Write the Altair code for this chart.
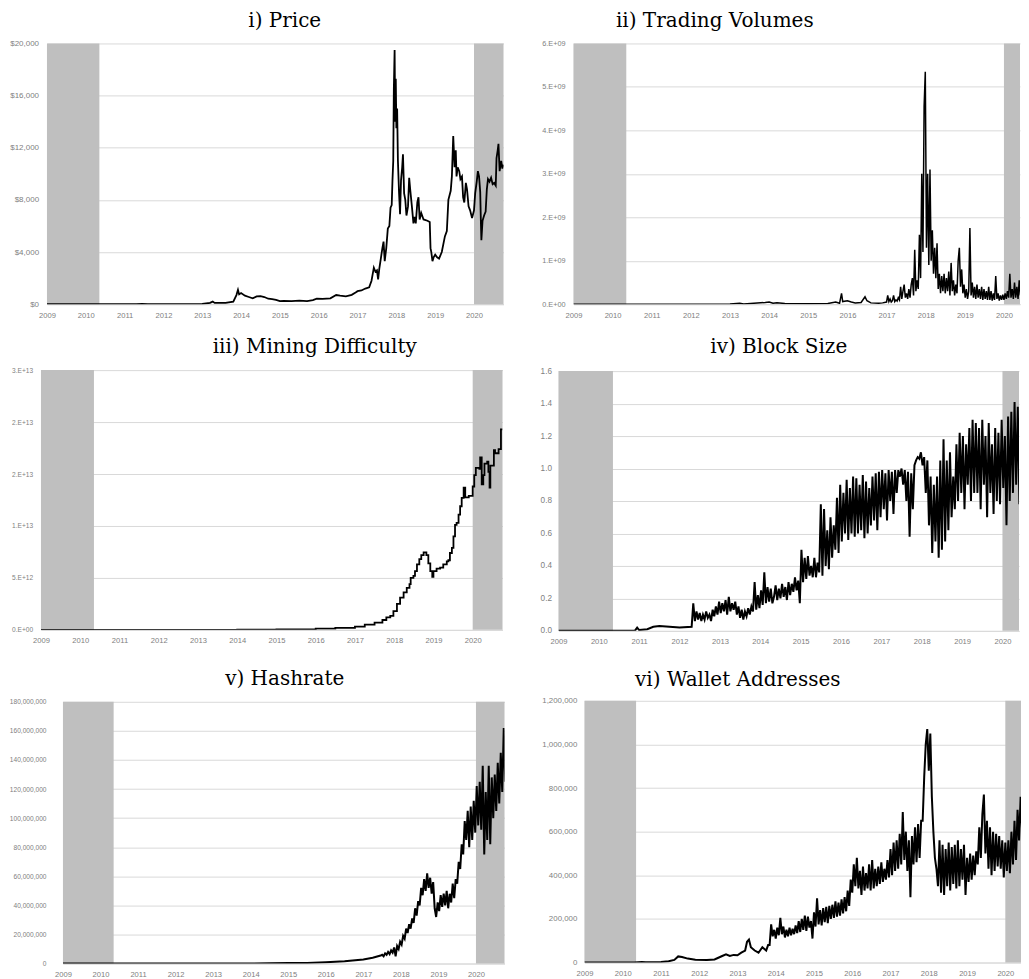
import altair as alt
import pandas as pd

YEARS = list(range(2009, 2021))
SHADE_LEFT_END = 2010.35
SHADE_RIGHT_START = 2020.0

# ---------------- i) Price (USD) ----------------
price_t = [2009.0, 2010.5, 2011.3, 2011.45, 2011.6, 2012.0, 2012.5, 2013.0, 2013.2, 2013.27,
           2013.32, 2013.6, 2013.8, 2013.88, 2013.92, 2013.95, 2014.0, 2014.1, 2014.2, 2014.3,
           2014.4, 2014.5, 2014.6, 2014.7, 2014.8, 2014.9, 2015.0, 2015.1, 2015.3, 2015.5,
           2015.7, 2015.85, 2015.95, 2016.1, 2016.3, 2016.45, 2016.55, 2016.7, 2016.85, 2016.95,
           2017.0, 2017.1, 2017.2, 2017.3, 2017.36, 2017.42, 2017.46, 2017.5, 2017.53, 2017.56,
           2017.6, 2017.64, 2017.67, 2017.7, 2017.74, 2017.78, 2017.82, 2017.85, 2017.88, 2017.9,
           2017.92, 2017.935, 2017.955, 2017.97, 2017.985, 2018.0, 2018.02, 2018.04, 2018.07, 2018.095,
           2018.12, 2018.15, 2018.17, 2018.2, 2018.23, 2018.26, 2018.3, 2018.33, 2018.36, 2018.4,
           2018.44, 2018.47, 2018.5, 2018.54, 2018.57, 2018.6, 2018.64, 2018.7, 2018.8, 2018.86,
           2018.88, 2018.9, 2018.93, 2018.96, 2019.0, 2019.05, 2019.1, 2019.17, 2019.25, 2019.3,
           2019.34, 2019.4, 2019.43, 2019.465, 2019.5, 2019.53, 2019.55, 2019.58, 2019.62, 2019.65,
           2019.69, 2019.72, 2019.75, 2019.79, 2019.82, 2019.86, 2019.9, 2019.95, 2020.0, 2020.03,
           2020.07, 2020.1, 2020.13, 2020.16, 2020.18, 2020.19, 2020.22, 2020.26, 2020.3, 2020.33,
           2020.36, 2020.4, 2020.44, 2020.48, 2020.52, 2020.56, 2020.58, 2020.61, 2020.63, 2020.66,
           2020.7, 2020.73, 2020.76]
price_v = [0, 0, 5, 25, 12, 5, 10, 15, 100, 200,
           100, 100, 200, 700, 1100, 750, 850, 650, 550, 450,
           600, 620, 550, 420, 380, 330, 230, 250, 230, 280,
           240, 320, 430, 400, 450, 700, 650, 600, 720, 900,
           1000, 1050, 1200, 1300, 1800, 2800, 2500, 2600, 1900, 2700,
           3500, 4300, 4800, 3300, 4300, 5800, 6000, 7400, 7600, 9500,
           11000, 16500, 19500, 14000, 17300, 13500, 15000, 11000, 8500, 6900,
           9500, 10500, 11500, 8500, 8000, 6800, 7500, 9700, 8700, 7500,
           6200, 6700, 6200, 7800, 8200, 6500, 7000, 6500, 6400, 6300,
           4300, 4000, 3300, 3600, 3800, 3600, 3500, 4000, 5200, 5600,
           8000, 8700, 9800, 12900, 10500, 11800, 9800, 10500, 10200, 9600,
           9800, 8200, 7800, 9300, 8800, 7500, 7200, 6600, 7200, 8500,
           9400, 10200, 9800, 8600, 6000, 4900, 6400, 6800, 7100, 8800,
           9600, 9400, 9700, 9200, 9300, 9100, 11200, 11800, 12300, 10200,
           11000, 10400, 10700]

# ---------------- ii) Trading volumes (billions) ----------------
vol_early_t = [2009.0, 2013.0, 2013.25, 2013.35, 2013.9, 2014.0, 2014.1, 2014.2, 2014.4, 2015.0,
               2015.5, 2015.7, 2015.8, 2015.85, 2015.88, 2016.0, 2016.1, 2016.2, 2016.35, 2016.45,
               2016.5, 2016.6, 2016.8, 2016.9]
vol_early_v = [0, 0.002, 0.02, 0.005, 0.04, 0.05, 0.02, 0.035, 0.015, 0.01,
               0.015, 0.05, 0.02, 0.25, 0.06, 0.08, 0.05, 0.03, 0.04, 0.17,
               0.08, 0.03, 0.02, 0.03]
vol_start, vol_step = 2017.0, 0.03
vol_v = [0.05, 0.20, 0.06, 0.12, 0.05, 0.08, 0.20, 0.06, 0.10, 0.07,
         0.15, 0.10, 0.40, 0.12, 0.30, 0.45, 0.15, 0.25, 0.12, 0.35,
         0.15, 0.45, 0.60, 0.20, 1.25, 0.30, 0.55, 0.35, 1.60, 0.60,
         3.00, 1.20, 4.55, 5.35, 1.30, 3.00, 0.90, 3.10, 1.00, 1.70,
         0.70, 1.30, 0.60, 1.40, 0.35, 0.70, 0.25, 0.65, 0.30, 0.70,
         0.25, 0.60, 0.30, 0.75, 0.20, 0.95, 0.30, 0.55, 0.20, 0.45,
         0.25, 1.00, 1.30, 0.40, 0.80, 0.25, 0.45, 0.15, 0.35, 0.12,
         0.30, 1.75, 0.20, 0.50, 0.15, 0.40, 0.12, 0.45, 0.15, 0.35,
         0.12, 0.40, 0.10, 0.35, 0.12, 0.30, 0.10, 0.40, 0.10, 0.30,
         0.08, 0.25, 0.10, 0.65, 0.12, 0.25, 0.08, 0.20, 0.10, 0.22,
         0.10, 0.25, 0.12, 0.30, 0.15, 0.70, 0.15, 0.35, 0.12, 0.50,
         0.15, 0.40, 0.12, 0.55, 0.20]

# ---------------- iii) Mining difficulty (x 1e12) ----------------
diff_t = [2009.0, 2013.0, 2014.0, 2015.0, 2015.5, 2016.0, 2016.5, 2017.0, 2017.25, 2017.5,
          2017.7, 2017.8, 2017.9, 2017.98, 2018.07, 2018.15, 2018.24, 2018.32, 2018.39, 2018.42,
          2018.49, 2018.53, 2018.58, 2018.64, 2018.69, 2018.75, 2018.82, 2018.87, 2018.92, 2018.97,
          2019.0, 2019.08, 2019.17, 2019.25, 2019.34, 2019.38, 2019.42, 2019.47, 2019.51, 2019.55,
          2019.59, 2019.64, 2019.68, 2019.72, 2019.77, 2019.81, 2019.9, 2020.0, 2020.04, 2020.08,
          2020.17, 2020.19, 2020.23, 2020.27, 2020.30, 2020.37, 2020.40, 2020.43, 2020.45, 2020.54,
          2020.57, 2020.66, 2020.72, 2020.76]
diff_v = [0, 0.003, 0.01, 0.045, 0.055, 0.11, 0.2, 0.32, 0.5, 0.7,
          0.95, 1.2, 1.35, 1.8, 2.5, 3.1, 3.6, 4.05, 4.4, 5.0,
          5.2, 5.65, 6.3, 6.8, 7.2, 7.45, 7.2, 6.4, 5.65, 5.1,
          5.65, 5.9, 6.0, 6.3, 6.6, 6.7, 7.4, 7.9, 9.0, 10.1,
          10.3, 11.1, 11.9, 12.7, 13.7, 12.75, 12.9, 13.8, 14.9, 15.6,
          15.5, 16.6, 14.0, 14.9, 16.0, 16.2, 15.2, 13.7, 15.8, 17.3,
          17.0, 17.4, 19.3, 19.3]

# ---------------- iv) Block size (MB) ----------------
bs_early_t = [2009.0, 2010.0, 2010.9, 2010.95, 2011.0, 2011.2, 2011.35, 2011.5, 2011.75, 2012.0, 2012.3]
bs_early_v = [0, 0.0, 0.003, 0.02, 0.005, 0.01, 0.025, 0.03, 0.025, 0.02, 0.025]
bs_start, bs_step = 2012.34, 0.04
bs_v = [0.17, 0.06, 0.12, 0.07, 0.11, 0.06, 0.10, 0.07, 0.12, 0.08, 0.10, 0.06, 0.13, 0.09, 0.15, 0.10, 0.18, 0.11, 0.17, 0.12, 0.19, 0.10, 0.21, 0.12, 0.17,
        0.13, 0.18, 0.10, 0.15, 0.08, 0.13, 0.07, 0.12, 0.09, 0.14, 0.10, 0.15, 0.12, 0.30, 0.13, 0.22, 0.14, 0.25, 0.16, 0.36, 0.17, 0.27, 0.18, 0.26, 0.17,
        0.21, 0.28, 0.19, 0.26, 0.20, 0.29, 0.21, 0.27, 0.19, 0.30, 0.22, 0.29, 0.24, 0.33, 0.25, 0.31, 0.17, 0.50, 0.30, 0.45, 0.32, 0.46, 0.34, 0.40, 0.33,
        0.45, 0.33, 0.42, 0.36, 0.78, 0.34, 0.75, 0.40, 0.62, 0.38, 0.70, 0.45, 0.65, 0.50, 0.82, 0.48, 0.90, 0.55, 0.85, 0.60, 0.93, 0.56, 0.88, 0.60, 0.95,
        0.58, 0.94, 0.60, 0.90, 0.62, 0.96, 0.57, 0.92, 0.60, 0.88, 0.65, 0.95, 0.68, 0.97, 0.62, 0.98, 0.70, 0.99, 0.75, 0.97, 0.68, 0.99, 0.80, 0.98, 0.72,
        0.99, 0.85, 0.99, 0.95, 1.00, 0.90, 0.99, 0.80, 0.98, 0.58, 0.97, 0.75, 1.02, 1.05, 1.07, 1.06, 1.10, 1.02, 1.07, 0.85, 1.05, 0.65, 0.95, 0.48, 0.90,
        0.55, 0.95, 0.45, 1.05, 0.50, 1.18, 0.55, 1.05, 0.62, 1.10, 0.70, 0.95, 0.75, 1.15, 0.80, 1.22, 0.85, 1.20, 0.75, 1.15, 0.90, 1.25, 0.80, 1.30, 0.85,
        1.28, 0.85, 1.25, 0.75, 1.30, 0.90, 1.20, 0.70, 1.28, 0.85, 1.15, 0.72, 1.25, 0.80, 1.22, 0.78, 1.30, 0.88, 1.20, 0.65, 1.32, 0.80, 1.35, 0.85, 1.41,
        0.90, 1.38, 0.78, 1.30]

# ---------------- v) Hashrate (millions) ----------------
hash_early_t = [2009.0, 2013.0, 2014.0, 2014.5, 2015.0, 2015.5, 2016.0, 2016.5, 2017.0, 2017.25, 2017.46]
hash_early_v = [0, 0.01, 0.05, 0.2, 0.35, 0.45, 0.9, 1.6, 2.8, 4.0, 5.5]
hash_start, hash_step = 2017.5, 0.04
hash_v = [6, 5, 7, 6, 8, 6.5, 9, 7.5, 11, 5,
          12, 10, 15, 13, 19, 17, 24, 21, 27, 24,
          31, 28, 38, 33, 43, 40, 52, 47, 58, 50,
          62, 52, 59, 48, 56, 38, 32, 42, 36, 47,
          39, 48, 40, 50, 38, 48, 42, 55, 45, 58,
          55, 70, 65, 82, 75, 98, 85, 105, 80, 108,
          85, 112, 90, 122, 95, 125, 92, 136, 75, 118,
          85, 136, 82, 128, 100, 130, 105, 138, 110, 145,
          118, 162, 125]

# ---------------- vi) Wallet addresses (thousands) ----------------
wal_early_t = [2009.0, 2010.3, 2010.5, 2010.6, 2011.0, 2011.2, 2011.35, 2011.45, 2011.55, 2011.7,
               2011.9, 2012.2, 2012.4, 2012.5, 2012.6, 2012.7, 2012.8, 2012.9, 2013.0, 2013.1,
               2013.2, 2013.25, 2013.3, 2013.35, 2013.45, 2013.55, 2013.65, 2013.75, 2013.8]
wal_early_v = [0, 0, 3, 1, 3, 6, 12, 28, 25, 18,
               13, 12, 14, 22, 30, 38, 30, 35, 33, 45,
               55, 95, 105, 70, 55, 45, 70, 55, 80]
wal_start, wal_step = 2013.84, 0.04
wal_v = [80, 175, 120, 150, 110, 160, 125, 205, 130, 165, 115, 150, 120, 160, 125, 155, 130, 170, 135, 190, 140, 200, 150, 215, 145,
         210, 160, 190, 110, 230, 165, 295, 175, 240, 170, 250, 185, 255, 180, 260, 200, 265, 205, 280, 210, 275, 215, 290, 225, 300,
         235, 330, 260, 380, 320, 450, 350, 480, 340, 420, 310, 440, 330, 410, 340, 450, 330, 470, 340, 430, 350, 440, 360, 460, 370,
         430, 380, 470, 390, 520, 400, 550, 420, 560, 430, 590, 450, 690, 470, 600, 420, 560, 300, 580, 450, 620, 460, 635, 480, 650,
         650, 850, 1000, 1070, 880, 1050, 760, 600, 480, 430, 350, 560, 320, 540, 310, 520, 350, 550, 330, 530, 360, 540, 340, 560, 350,
         520, 380, 540, 310, 480, 370, 500, 380, 490, 400, 510, 450, 620, 480, 680, 770, 500, 650, 430, 620, 400, 600, 420, 590, 440,
         580, 430, 560, 390, 550, 420, 560, 410, 600, 450, 650, 470, 700, 560, 760, 600, 740]


def grid_times(start, step, n):
    return [round(start + i * step, 4) for i in range(n)]


GRID = "#d9d9d9"
LABEL = "#808080"
SHADE = "#bfbfbf"


def panel(title, t, v, ymax, yvals, ylabel, width, height, xmax, yext, tdx,
          yfs, ypad, toff, xext=0, interp="linear", sw=1.8):
    xs = alt.Scale(domain=[2009, xmax], nice=False, zero=False)
    ys = alt.Scale(domain=[0, ymax], nice=False, zero=True)
    xax = alt.Axis(values=YEARS, format="d", title=None, grid=False, ticks=False,
                   domain=True, domainColor=GRID, labelFlush=False, labelPadding=7,
                   labelOverlap=False, labelFontSize=7.6, minExtent=xext)
    yax = alt.Axis(values=yvals, labelExpr=ylabel, title=None, grid=True, gridColor=GRID,
                   ticks=False, domain=False, labelPadding=ypad, minExtent=yext,
                   maxExtent=yext, labelOverlap=False, labelFontSize=yfs)
    shade = pd.DataFrame({"x0": [2009.0, SHADE_RIGHT_START],
                          "x1": [SHADE_LEFT_END, xmax],
                          "y0": [0, 0], "y1": [ymax, ymax]})
    rect = alt.Chart(shade).mark_rect(color=SHADE).encode(
        x=alt.X("x0:Q", scale=xs, axis=xax), x2="x1:Q",
        y=alt.Y("y0:Q", scale=ys, axis=yax), y2="y1:Q")
    line = alt.Chart(pd.DataFrame({"t": t, "v": v})).mark_line(
        color="black", strokeWidth=sw, clip=True, interpolate=interp).encode(
        x=alt.X("t:Q", scale=xs, axis=xax),
        y=alt.Y("v:Q", scale=ys, axis=yax))
    return alt.layer(rect, line).properties(
        width=width, height=height,
        title=alt.TitleParams(title, font="DejaVu Serif", fontSize=20, fontWeight="normal",
                              color="#000000", anchor="middle", frame="group", dx=tdx,
                              offset=toff, baseline="alphabetic"))


def spacer():
    # invisible 1px cell that lets each row start its first panel independently
    return alt.Chart(pd.DataFrame({"s": [0]})).mark_rect(opacity=0).encode(
        x=alt.value(0), x2=alt.value(1), y=alt.value(0), y2=alt.value(1)
    ).properties(width=1, height=1)


XMAX_L = 2020.76
XMAX_R = 2020.41

p1 = panel("i) Price", price_t, price_v, 20000, [0, 4000, 8000, 12000, 16000, 20000],
           "format(datum.value, '$,.0f')", 457, 261, XMAX_L, 37, 9.5, 8.0, 8.4, -8)
p2 = panel("ii) Trading Volumes",
           vol_early_t + grid_times(vol_start, vol_step, len(vol_v)), vol_early_v + vol_v,
           6, [0, 1, 2, 3, 4, 5, 6],
           "datum.value == 0 ? '0.E+00' : datum.value + '.E+09'", 447, 261, XMAX_R, 65, -82,
           7.3, 8.4, -8, sw=1.5)
p3 = panel("iii) Mining Difficulty", diff_t, diff_v, 25, [0, 5, 10, 15, 20, 25],
           "datum.value == 0 ? '0.E+00' : datum.value == 5 ? '5.E+12' : datum.value == 10 ? '1.E+13' : datum.value == 25 ? '3.E+13' : '2.E+13'",
           462, 260, XMAX_L, 32, 43, 6.6, 8.4, -6, xext=21, interp="step-after")
p4 = panel("iv) Block Size",
           bs_early_t + grid_times(bs_start, bs_step, len(bs_v)), bs_early_v + bs_v,
           1.6, [0, 0.2, 0.4, 0.6, 0.8, 1.0, 1.2, 1.4, 1.6],
           "format(datum.value, '.1f')", 461, 260, XMAX_R, 56, -10, 8.2, 7, -7, xext=21, sw=2.0)
p5 = panel("v) Hashrate",
           hash_early_t + grid_times(hash_start, hash_step, len(hash_v)), hash_early_v + hash_v,
           180, [0, 20, 40, 60, 80, 100, 120, 140, 160, 180],
           "format(datum.value * 1000000, ',d')", 442, 262, XMAX_L, 52, 1, 6.6, 17, -6, sw=2.0)
p6 = panel("vi) Wallet Addresses",
           wal_early_t + grid_times(wal_start, wal_step, len(wal_v)), wal_early_v + wal_v,
           1200, [0, 200, 400, 600, 800, 1000, 1200],
           "format(datum.value * 1000, ',d')", 437, 262, XMAX_R, 60, -65, 7.9, 7.6, -9, sw=2.0)

chart = alt.concat(spacer(), p1, p2, spacer(), p3, p4, spacer(), p5, p6,
                   columns=3, align="none",
                   spacing={"row": 18, "column": 0}).properties(
    padding={"top": 3, "left": 0, "right": 0, "bottom": 0}, background="white"
).configure_view(stroke=None).configure_axis(
    labelFont="Liberation Sans", labelColor=LABEL
)

chart.save("out.html", embed_options={"renderer": "svg", "actions": False})
